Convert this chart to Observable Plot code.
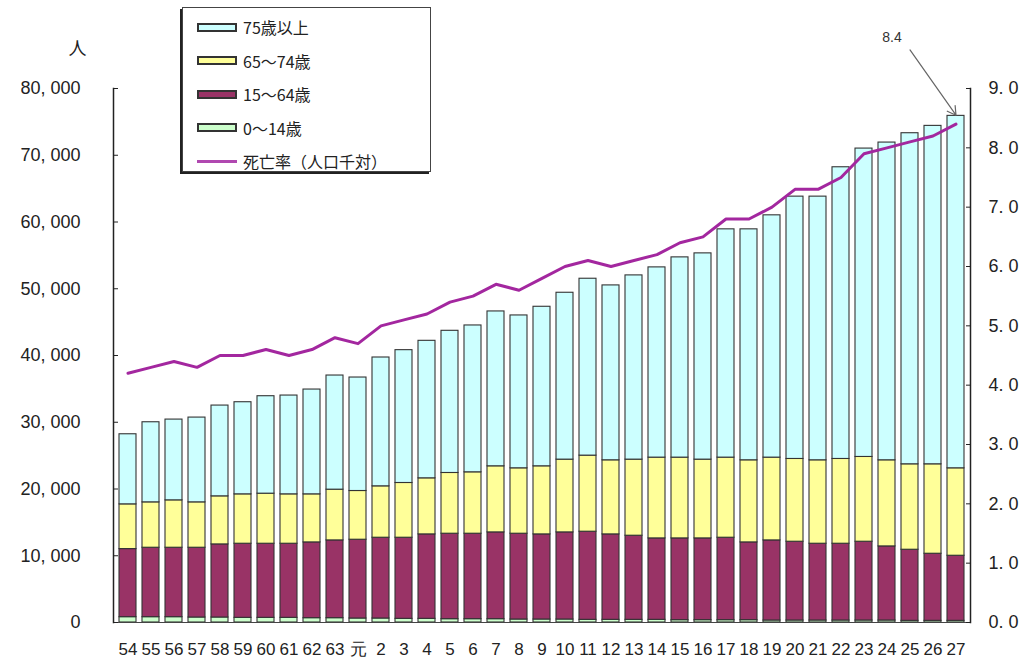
<!DOCTYPE html>
<html>
<head>
<meta charset="utf-8">
<script src="https://cdn.jsdelivr.net/npm/d3@7"></script>
<script src="https://cdn.jsdelivr.net/npm/@observablehq/plot@0.6"></script>
<style>
  html, body { margin: 0; padding: 0; background: #fff; }
  #wrap { position: relative; width: 1033px; height: 666px; }
  #legend {
    position: absolute; left: 182px; top: 7px; width: 249px; height: 165px;
    background: #fff; border: 1.5px solid #444; box-shadow: -2px 2px 0 #222;
    font-family: "Noto Sans CJK JP", sans-serif; font-size: 16px; color: #222;
    box-sizing: border-box;
  }
  .row { position: absolute; left: 14px; height: 22px; display: flex; align-items: center; }
  .sw { width: 40px; height: 9px; border: 2px solid #333; box-sizing: border-box; margin-right: 6px; }
  .ln { width: 40px; height: 3px; background: #b048b0; margin-right: 6px; }
</style>
</head>
<body>
<div id="wrap"></div>
<script>
// ---- data ----
const years = ["54","55","56","57","58","59","60","61","62","63","元","2","3","4","5","6","7","8","9","10","11","12","13","14","15","16","17","18","19","20","21","22","23","24","25","26","27"];

const age0_14 = [800,800,800,750,750,700,700,700,650,650,600,600,550,550,500,500,500,450,450,450,400,400,400,400,350,350,350,350,300,300,300,300,300,300,250,250,250];

const age15_64 = [10200,10400,10400,10450,10950,11100,11100,11100,11350,11650,11800,12100,12150,12650,12800,12800,13000,12850,12750,13050,13200,12800,12600,12200,12250,12250,12350,11650,12000,11800,11500,11500,11800,11100,10650,10050,9750];

const age65_74 = [6700,6800,7100,6800,7200,7400,7500,7400,7200,7600,7300,7700,8200,8400,9100,9200,9900,9800,10200,10900,11400,11100,11400,12100,12100,11800,12000,12300,12400,12400,12500,12700,12700,12900,12800,13400,13100];

const age75plus = [10500,12000,12100,12700,13600,13800,14600,14800,15700,17100,17000,19300,19900,20600,21300,22000,23200,22900,23900,25000,26500,26200,27600,28500,30000,30900,34200,34600,36300,39300,39500,43700,46200,47600,49600,50700,52800];

const deathRate = [4.2,4.3,4.4,4.3,4.5,4.5,4.6,4.5,4.6,4.8,4.7,5.0,5.1,5.2,5.4,5.5,5.7,5.6,5.8,6.0,6.1,6.0,6.1,6.2,6.4,6.5,6.8,6.8,7.0,7.3,7.3,7.5,7.9,8.0,8.1,8.2,8.4];

const groups = ["0～14歳","15～64歳","65～74歳","75歳以上"];
const groupColors = ["#ccffcc","#993366","#ffff99","#ccffff"];
const leftTicks = [0,10000,20000,30000,40000,50000,60000,70000,80000];
const rightTicks = [0,1,2,3,4,5,6,7,8,9];
const yMax = 80000, rMax = 9;
const unitLabel = "人";
const annoLabel = "8.4";

// ---- build tables ----
const K = yMax / rMax;
const series = [age0_14, age15_64, age65_74, age75plus];
const rows = years.flatMap((yr, i) => groups.map((g, j) => ({year: yr, group: g, value: series[j][i]})));
const rateRows = years.map((yr, i) => ({year: yr, rate: deathRate[i], yv: deathRate[i] * K}));
const last = rateRows[rateRows.length - 1];
const anno = [{x1: years[years.length - 3], y1: (last.rate + 1.25) * K, x2: last.year, y2: (last.rate + 0.15) * K, label: annoLabel}];

const chart = Plot.plot({
  width: 1033,
  height: 666,
  marginLeft: 113,
  marginRight: 63,
  marginTop: 88,
  marginBottom: 44,
  style: {fontFamily: "Liberation Sans, Arial, sans-serif", fontSize: "17px", color: "#222", background: "#fff"},
  x: {domain: years, padding: 0.26, axis: null},
  y: {domain: [0, yMax], axis: null},
  color: {domain: groups, range: groupColors},
  marks: [
    Plot.barY(rows, {x: "year", y: "value", fill: "group", order: groups, stroke: "#333", strokeWidth: 1.1}),
    Plot.line(rateRows, {x: "year", y: "yv", stroke: "#a3279f", strokeWidth: 3}),
    Plot.ruleY([0], {stroke: "#444"}),
    Plot.frame({anchor: "left", stroke: "#222", strokeWidth: 1.5}),
    Plot.frame({anchor: "right", stroke: "#222", strokeWidth: 1.5}),
    Plot.axisY(leftTicks, {anchor: "left", tickSize: -5, tickPadding: 38, tickFormat: d => d3.format(",")(d).replace(",", ", "), fontSize: 18, stroke: "#222"}),
    Plot.axisY(rightTicks.map(t => t * K), {anchor: "right", tickSize: -5, tickPadding: 23, tickFormat: d => (d / K).toFixed(1).replace(".", ". "), fontSize: 18, stroke: "#222"}),
    Plot.axisX({tickSize: 0, tickPadding: 20, fontSize: 17, letterSpacing: "-1px"}),
    Plot.text([unitLabel], {frameAnchor: "top-left", text: d => d, dx: -45, dy: -46, fontSize: 18, fontFamily: "Noto Sans CJK JP"}),
    Plot.arrow(anno, {x1: "x1", y1: "y1", x2: "x2", y2: "y2", stroke: "#666", strokeWidth: 1.2, headLength: 12}),
    Plot.text(anno, {x: "x1", y: "y1", text: "label", dx: -18, dy: -12, fontSize: 14, fill: "#333"})
  ]
});

const wrap = document.getElementById("wrap");
wrap.appendChild(chart);

// legend (HTML overlay)
const legend = document.createElement("div");
legend.id = "legend";
const legendItems = [
  {label: groups[3], color: groupColors[3]},
  {label: groups[2], color: groupColors[2]},
  {label: groups[1], color: groupColors[1]},
  {label: groups[0], color: groupColors[0]},
  {label: "死亡率（人口千対）", line: true}
];
legendItems.forEach((it, i) => {
  const r = document.createElement("div");
  r.className = "row";
  r.style.top = (8 + i * 33.5) + "px";
  const s = document.createElement("div");
  if (it.line) { s.className = "ln"; } else { s.className = "sw"; s.style.background = it.color; }
  r.appendChild(s);
  const t = document.createElement("span");
  t.textContent = it.label;
  r.appendChild(t);
  legend.appendChild(r);
});
wrap.appendChild(legend);
</script>
</body>
</html>
